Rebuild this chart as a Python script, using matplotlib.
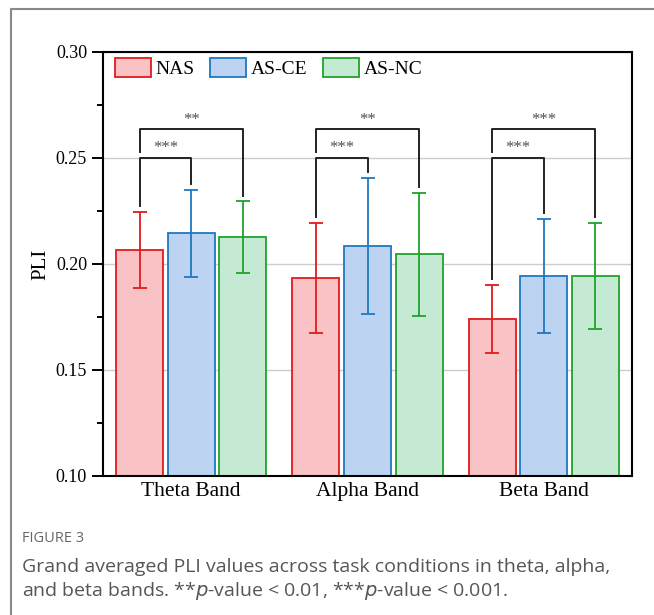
import numpy as np
import matplotlib.pyplot as plt
from matplotlib.lines import Line2D

plt.rcParams['font.family'] = ['Liberation Serif', 'DejaVu Serif']

# data
bands = ["Theta Band", "Alpha Band", "Beta Band"]
conditions = ["NAS", "AS-CE", "AS-NC"]
nas_mean = [0.2066, 0.1934, 0.1742]
nas_sd = [0.0181, 0.0259, 0.0160]
asce_mean = [0.2145, 0.2086, 0.1943]
asce_sd = [0.0204, 0.0320, 0.0270]
asnc_mean = [0.2127, 0.2045, 0.1944]
asnc_sd = [0.0168, 0.0290, 0.0251]

# significance labels per band
sig_inner = ["***", "***", "***"]   # NAS vs AS-CE
sig_outer = ["**", "**", "***"]     # NAS vs AS-NC

edge_colors = ["#e31a1c", "#1f78c1", "#1fa22a"]
fill_colors = ["#f9c3c5", "#bcd4f2", "#c5ead4"]

means = [nas_mean, asce_mean, asnc_mean]
sds = [nas_sd, asce_sd, asnc_sd]

fig = plt.figure(figsize=(6.54, 6.15), dpi=100)
ax = fig.add_axes([103/654, 1-476/615, (632-103)/654, (476-52)/615])

x = np.arange(len(bands))
step = 0.293
width = 0.267
for j in range(3):
    xs = x + (j - 1) * step
    ax.bar(xs, means[j], width, color=fill_colors[j], edgecolor=edge_colors[j],
           linewidth=1.3, label=conditions[j], zorder=2)
    ax.errorbar(xs, means[j], yerr=sds[j], fmt='none', ecolor=edge_colors[j],
                elinewidth=1.3, capsize=4.8, capthick=1.3, zorder=3)

# brackets
y_inner = 0.2501
y_outer = 0.2635
gap = 0.0028
for i in range(len(bands)):
    x0 = x[i] - step
    x1 = x[i]
    x2 = x[i] + step
    top0 = nas_mean[i] + nas_sd[i] + gap
    top1 = asce_mean[i] + asce_sd[i] + gap
    top2 = asnc_mean[i] + asnc_sd[i] + gap
    ax.plot([x0, x0, x1, x1], [top0, y_inner, y_inner, top1], color="#222222", lw=1.4, zorder=4)
    ax.plot([x0, x0, x2, x2], [y_inner + gap, y_outer, y_outer, top2], color="#222222", lw=1.4, zorder=4)
    ax.text((x0 + x1) / 2, y_inner + 0.0008, sig_inner[i], ha='center', va='bottom',
            fontsize=12, color="#505050")
    ax.text((x0 + x2) / 2, y_outer + 0.0008, sig_outer[i], ha='center', va='bottom',
            fontsize=12, color="#505050")

ax.set_xlim(-0.5, 2.5)
ax.set_ylim(0.10, 0.30)
ax.set_yticks([0.10, 0.15, 0.20, 0.25, 0.30])
ax.set_yticks(np.arange(0.125, 0.30, 0.05), minor=True)
ax.set_yticklabels(["0.10", "0.15", "0.20", "0.25", "0.30"], fontsize=13)
ax.set_xticks(x)
ax.set_xticklabels(bands, fontsize=15.5)
ax.tick_params(axis='x', length=0, pad=4)
ax.tick_params(axis='y', which='major', length=8, width=1.4, direction='out')
ax.tick_params(axis='y', which='minor', length=4, width=1.4, direction='out')
ax.set_ylabel("PLI", fontsize=15, labelpad=4)
ax.yaxis.grid(True, color="#cccccc", lw=1.0)
ax.set_axisbelow(True)
for s in ax.spines.values():
    s.set_linewidth(1.5)

ax.legend(loc='upper left', bbox_to_anchor=(0.015, 0.995), ncol=3, frameon=False,
          fontsize=14, handlelength=1.85, handleheight=1.13, handletextpad=0.25,
          columnspacing=0.8, borderpad=0.2, borderaxespad=0.0)

# panel frame and caption
fig.add_artist(Line2D([11/654, 11/654, 1.0], [0.0, 1-9/615, 1-9/615], color="#888888", lw=1.5))
fig.text(22/654, 1-538/615, "FIGURE 3", fontsize=10.5, color="#666666",
         family=['Open Sans', 'DejaVu Sans'], va='center')
fig.text(22/654, 1-567/615, "Grand averaged PLI values across task conditions in theta, alpha,",
         fontsize=14, color="#555555", family=['Open Sans', 'DejaVu Sans'], va='center')
fig.text(22/654, 1-591/615, "and beta bands. **$p$-value < 0.01, ***$p$-value < 0.001.",
         fontsize=14, color="#555555", family=['Open Sans', 'DejaVu Sans'], va='center')

fig.savefig("out.png", dpi=100)
